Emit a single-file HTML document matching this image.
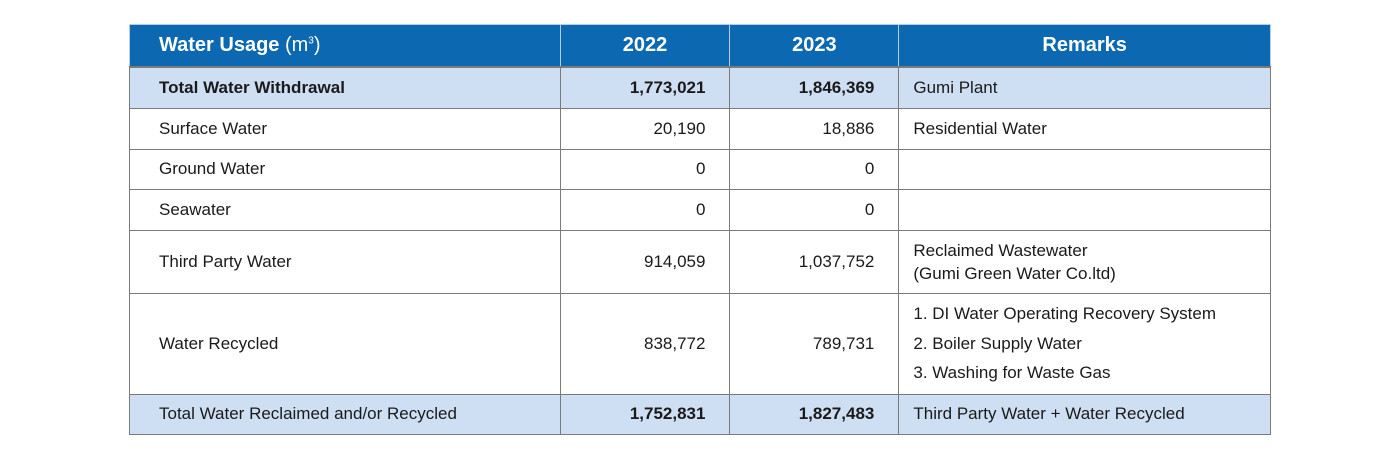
<!DOCTYPE html>
<html><head><meta charset="utf-8"><style>
body{margin:0;width:1400px;height:457px;background:#fff;font-family:"Liberation Sans",sans-serif;position:relative;overflow:hidden}
table{position:absolute;left:129px;top:24px;border-collapse:collapse;width:1142px;font-size:17px;color:#1a1a1a}
td,th{border:1px solid #7a7a7a;padding:0 14px;}
th{background:#0b68b1;color:#fff;font-size:20px;font-weight:bold;height:41px;border-color:#b8cde6;border-bottom:2px solid #7a7a7a}
th.l{text-align:left;padding-left:29px}
td.l{padding-left:29px}
td.n{text-align:right;padding-right:24px}
tr.hl td{background:#cfdff3}
.b{font-weight:bold}
</style></head><body>
<table>
<colgroup><col style="width:431px"><col style="width:170px"><col style="width:169px"><col style="width:372px"></colgroup>
<tr><th class="l">Water Usage <span style="font-weight:normal">(m<sup style="font-size:10px">3</sup>)</span></th><th>2022</th><th>2023</th><th>Remarks</th></tr>
<tr class="hl" style="height:41px"><td class="l b">Total Water Withdrawal</td><td class="n b">1,773,021</td><td class="n b">1,846,369</td><td>Gumi Plant</td></tr>
<tr style="height:41px"><td class="l">Surface Water</td><td class="n">20,190</td><td class="n">18,886</td><td>Residential Water</td></tr>
<tr style="height:40px"><td class="l">Ground Water</td><td class="n">0</td><td class="n">0</td><td></td></tr>
<tr style="height:41px"><td class="l">Seawater</td><td class="n">0</td><td class="n">0</td><td></td></tr>
<tr style="height:63px"><td class="l">Third Party Water</td><td class="n">914,059</td><td class="n">1,037,752</td><td style="line-height:23px">Reclaimed Wastewater<br>(Gumi Green Water Co.ltd)</td></tr>
<tr style="height:101px"><td class="l">Water Recycled</td><td class="n">838,772</td><td class="n">789,731</td><td style="line-height:29.5px">1. DI Water Operating Recovery System<br>2. Boiler Supply Water<br>3. Washing for Waste Gas</td></tr>
<tr class="hl" style="height:40px"><td class="l">Total Water Reclaimed and/or Recycled</td><td class="n b">1,752,831</td><td class="n b">1,827,483</td><td>Third Party Water + Water Recycled</td></tr>
</table>
</body></html>
